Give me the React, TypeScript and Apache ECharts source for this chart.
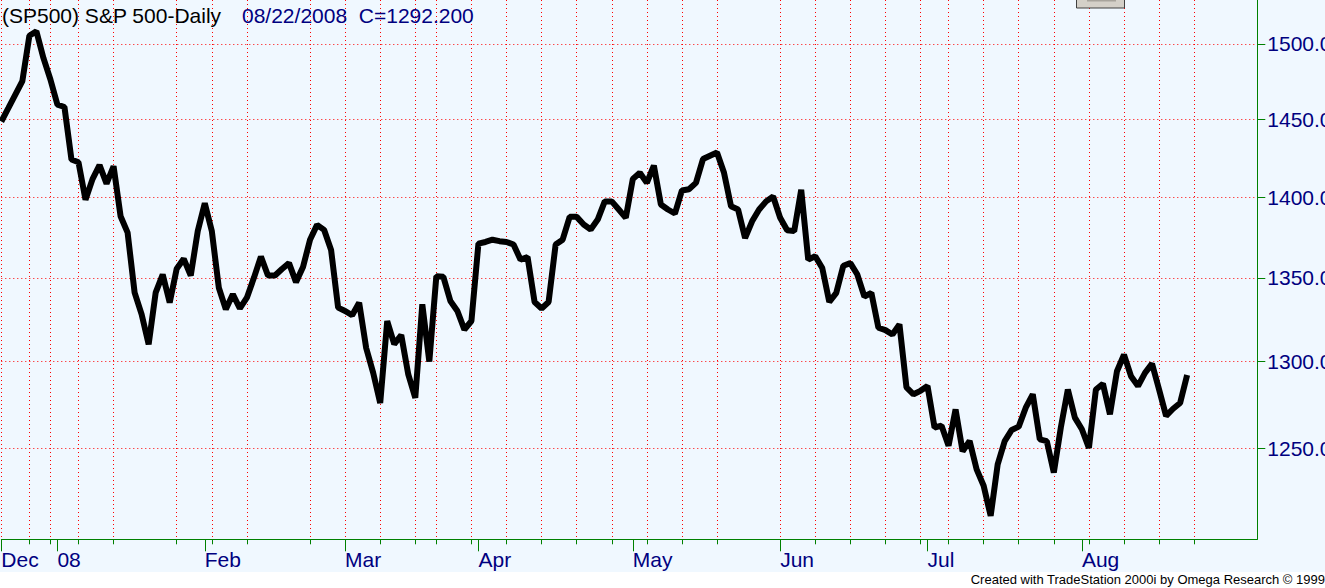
import React, { useEffect, useRef } from 'react';
import * as echarts from 'echarts';

// Daily closes, one per trading day (index 0 = first bar in December 2007)
const closes = [
  1448.5, 1457.3, 1466.2, 1475.1, 1505.5, 1508.6, 1490.6, 1476.2, 1459.5, 1458.0,
  1423.9, 1422.2, 1398.3, 1411.4, 1420.3, 1408.5, 1419.6, 1388.0, 1377.8, 1341.0,
  1328.0, 1310.1, 1341.0, 1352.0, 1335.0, 1355.6, 1361.6, 1351.4, 1378.8, 1396.1,
  1378.8, 1344.0, 1331.0, 1340.0, 1331.5, 1338.0, 1350.0, 1363.0, 1351.4, 1351.4,
  1355.4, 1359.0, 1347.4, 1356.6, 1373.4, 1382.6, 1379.5, 1367.1, 1332.0, 1330.0,
  1327.4, 1335.0, 1308.0, 1293.4, 1276.0, 1324.0, 1310.3, 1315.6, 1292.5, 1279.0,
  1334.0, 1300.0, 1351.0, 1350.6, 1336.0, 1330.0, 1318.9, 1324.0, 1371.0, 1372.0,
  1373.4, 1372.5, 1372.0, 1370.4, 1361.1, 1362.7, 1335.4, 1331.5, 1335.4, 1370.4,
  1373.4, 1387.6, 1387.6, 1382.8, 1379.7, 1385.9, 1397.3, 1397.3, 1392.2, 1387.0,
  1411.5, 1415.4, 1409.0, 1420.0, 1395.3, 1392.2, 1389.7, 1404.2, 1405.0, 1409.0,
  1424.2, 1426.3, 1428.4, 1415.4, 1394.2, 1392.2, 1374.4, 1384.8, 1392.2, 1397.3,
  1400.4, 1387.0, 1379.3, 1378.7, 1404.6, 1361.1, 1363.2, 1356.0, 1335.4, 1340.9,
  1357.4, 1359.0, 1352.0, 1338.7, 1340.9, 1320.0, 1318.6, 1316.0, 1322.0, 1285.0,
  1281.0, 1283.0, 1285.8, 1262.0, 1263.0, 1251.7, 1272.3, 1248.5, 1254.3, 1238.4,
  1229.3, 1212.7, 1241.2, 1254.3, 1260.6, 1262.5, 1273.3, 1281.0, 1255.3, 1254.3,
  1236.6, 1262.0, 1283.8, 1267.6, 1261.0, 1250.4, 1283.8, 1287.1, 1269.5, 1294.4,
  1304.0, 1291.5, 1285.8, 1293.4, 1298.8, 1283.8, 1268.6, 1272.7, 1276.0, 1292.2,
];

// Total bar slots on the time axis (includes empty future slots on the right)
const slotCount = 180;
const monthLabels = ['Dec', '08', 'Feb', 'Mar', 'Apr', 'May', 'Jun', 'Jul', 'Aug'];
const monthStartIdx = [0, 8, 29, 49, 68, 90, 111, 132, 154];
const weekTickIdx = [
  0, 4, 7, 11, 16, 25, 30, 35, 44, 49, 54, 59, 62, 67, 72, 77, 82, 87, 92, 97, 102,
  111, 116, 121, 126, 131, 135, 140, 145, 150, 155, 160, 165, 170,
];
const priceTicks = [1250, 1300, 1350, 1400, 1450, 1500];
const priceMin = 1200;
const priceMax = 1530;

const titleLeft = '(SP500) S&P 500-Daily';
const titleRight = '08/22/2008  C=1292.200';
const footer = 'Created with TradeStation 2000i by Omega Research \u00A9 1999';

const FONT = '"Liberation Sans", Arial, sans-serif';
const NAVY = '#000080';
const GREEN = '#008000';
const GRID_RED = '#FF0000';

export default function App() {
  const ref = useRef<HTMLDivElement>(null);

  useEffect(() => {
    if (!ref.current) return;
    const chart = echarts.init(ref.current, undefined, { renderer: 'svg' });
    const categories = Array.from({ length: slotCount }, (_, i) => String(i));
    const weekSet = new Set(weekTickIdx);
    const monthSet = new Set(monthStartIdx);
    const logTicks = priceTicks.map((v) => Math.log10(v));

    chart.setOption({
      animation: false,
      backgroundColor: '#FFFFFF',
      grid: {
        left: 1.3,
        right: 67.7,
        top: 0,
        bottom: 48.7,
        containLabel: false,
        outerBoundsMode: 'none',
      },
      xAxis: [
        {
          type: 'category',
          data: categories,
          boundaryGap: false,
          position: 'bottom',
          axisLine: { show: true, onZero: false, lineStyle: { color: GREEN, width: 1 } },
          axisTick: {
            show: true,
            length: 5,
            interval: (i: number) => weekSet.has(i),
            lineStyle: { color: GREEN, width: 1 },
          },
          axisLabel: { show: false },
          splitLine: {
            show: true,
            interval: (i: number) => weekSet.has(i),
            lineStyle: { color: GRID_RED, width: 1, type: [1, 3] },
          },
        },
        {
          type: 'category',
          data: categories,
          boundaryGap: false,
          position: 'bottom',
          axisLine: { show: false, onZero: false },
          axisTick: {
            show: true,
            length: 12,
            interval: (i: number) => monthSet.has(i),
            lineStyle: { color: GREEN, width: 1 },
          },
          axisLabel: {
            show: true,
            interval: (i: number) => monthSet.has(i),
            formatter: (v: string) => monthLabels[monthStartIdx.indexOf(Number(v))] ?? '',
            align: 'left',
            margin: 10,
            color: NAVY,
            fontSize: 21,
            fontFamily: FONT,
          },
          splitLine: { show: false },
        },
      ],
      yAxis: {
        type: 'value',
        position: 'right',
        min: Math.log10(priceMin),
        max: Math.log10(priceMax),
        axisLine: { show: true, lineStyle: { color: GREEN, width: 1 } },
        axisTick: {
          show: true,
          length: 8,
          customValues: logTicks,
          lineStyle: { color: GREEN, width: 1 },
        },
        axisLabel: {
          show: true,
          customValues: logTicks,
          formatter: (v: number) => Math.pow(10, v).toFixed(1),
          margin: 10,
          color: NAVY,
          fontSize: 21,
          fontFamily: FONT,
        },
        splitLine: {
          show: true,
          lineStyle: { color: GRID_RED, width: 1, type: [1, 3] },
        },
      },
      series: [
        {
          type: 'line',
          xAxisIndex: 0,
          data: closes.map((v) => Math.log10(v)),
          symbol: 'none',
          lineStyle: { color: '#000000', width: 6 },
          z: 5,
        },
      ],
      graphic: [
        {
          type: 'rect',
          z: -100,
          shape: { x: 0, y: 0, width: 1325, height: 572 },
          style: { fill: '#F0F8FF' },
          silent: true,
        },
        {
          type: 'rect',
          z: 10,
          shape: { x: 1076.5, y: -2, width: 48, height: 10 },
          style: { fill: '#D4D0C8', stroke: '#404040', lineWidth: 1 },
        },
        {
          type: 'rect',
          z: 11,
          shape: { x: 1087, y: -1, width: 29, height: 2.5 },
          style: { fill: '#A8A49C' },
        },
        {
          type: 'text',
          z: 20,
          x: 2,
          y: 5,
          style: {
            text: titleLeft,
            fill: '#000000',
            fontSize: 21,
            fontFamily: FONT,
            verticalAlign: 'top',
          },
        },
        {
          type: 'text',
          z: 20,
          x: 242,
          y: 5,
          style: {
            text: titleRight,
            fill: NAVY,
            fontSize: 21,
            fontFamily: FONT,
            verticalAlign: 'top',
          },
        },
        {
          type: 'text',
          z: 20,
          x: 1325,
          y: 573,
          style: {
            text: footer,
            fill: '#000000',
            fontSize: 13,
            fontFamily: FONT,
            align: 'right',
            verticalAlign: 'top',
          },
        },
      ],
    });

    return () => chart.dispose();
  }, []);

  return (
    <div
      ref={ref}
      style={{ position: 'fixed', left: 0, top: 0, width: 1325, height: 588 }}
    />
  );
}
